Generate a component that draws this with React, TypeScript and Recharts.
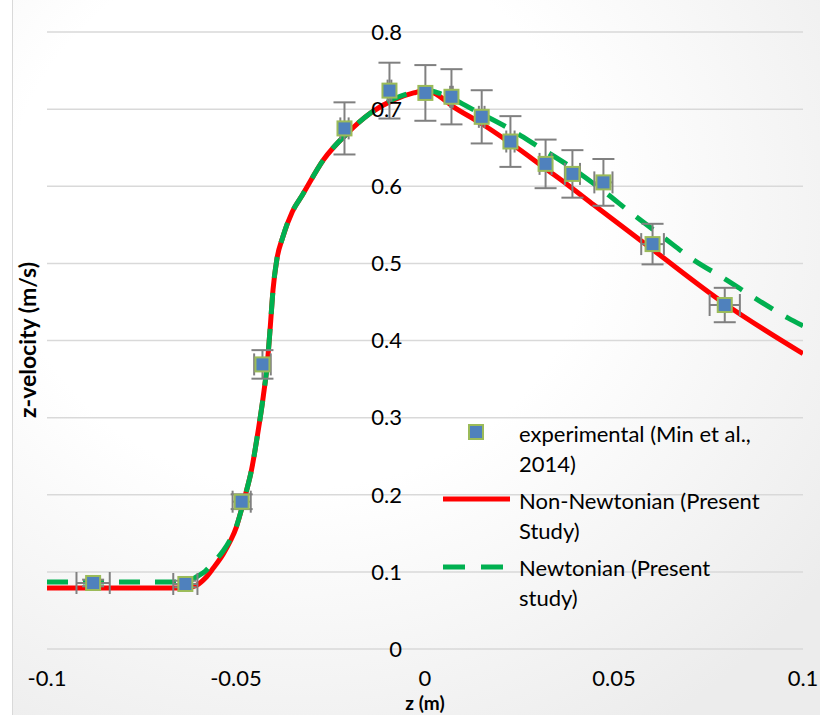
import React from 'react';
import {
  ComposedChart,
  Line,
  Scatter,
  XAxis,
  YAxis,
  CartesianGrid,
  ErrorBar,
  ReferenceDot,
  Label,
} from 'recharts';

// ---- data ----
const expX = [-0.0878, -0.0634, -0.0485, -0.0430, -0.0213, -0.0094, 0.0001, 0.0070, 0.0150, 0.0226, 0.0319, 0.0390, 0.0472, 0.0602, 0.0793];
const expY = [0.0856, 0.0843, 0.191, 0.369, 0.675, 0.724, 0.721, 0.716, 0.690, 0.658, 0.629, 0.616, 0.605, 0.525, 0.446];
const expYErr = [0.0043, 0.0042, 0.0096, 0.0185, 0.0338, 0.0362, 0.0361, 0.0358, 0.0345, 0.0329, 0.0315, 0.0308, 0.0303, 0.0263, 0.0223];
const expXErr = [0.0044, 0.0032, 0.0024, 0.0022, 0.0011, 0.0005, 0.0, 0.00035, 0.00075, 0.0011, 0.0016, 0.0020, 0.0024, 0.0030, 0.0040];

const nonNewtX = [-0.1, -0.08, -0.0634, -0.0603, -0.0581, -0.0560, -0.0534, -0.0515, -0.0499, -0.0486, -0.0475, -0.0459, -0.0441, -0.0428, -0.0417, -0.0409, -0.0402, -0.0392, -0.0377, -0.0351, -0.0324, -0.0269, -0.0205, -0.0144, -0.0083, -0.003, 0.0001, 0.0023, 0.0075, 0.0147, 0.0226, 0.0324, 0.0377, 0.0446, 0.0602, 0.0792, 0.1];
const nonNewtY = [0.079, 0.079, 0.079, 0.083, 0.092, 0.105, 0.123, 0.140, 0.158, 0.180, 0.200, 0.232, 0.284, 0.327, 0.371, 0.420, 0.466, 0.505, 0.533, 0.567, 0.589, 0.634, 0.669, 0.695, 0.712, 0.721, 0.724, 0.721, 0.703, 0.682, 0.656, 0.621, 0.602, 0.576, 0.518, 0.448, 0.383];

const newtX = [-0.1, -0.08, -0.0634, -0.0603, -0.0581, -0.0560, -0.0534, -0.0515, -0.0499, -0.0486, -0.0475, -0.0459, -0.0441, -0.0428, -0.0417, -0.0409, -0.0402, -0.0392, -0.0377, -0.0351, -0.0324, -0.0269, -0.0205, -0.0144, -0.0083, -0.003, 0.0001, 0.0035, 0.0075, 0.0125, 0.0222, 0.0301, 0.0385, 0.0469, 0.0549, 0.0630, 0.0709, 0.0793, 0.0876, 0.0961, 0.1];
const newtY = [0.087, 0.087, 0.087, 0.094, 0.101, 0.112, 0.127, 0.142, 0.159, 0.180, 0.200, 0.232, 0.284, 0.327, 0.371, 0.420, 0.466, 0.505, 0.533, 0.567, 0.589, 0.634, 0.669, 0.695, 0.713, 0.722, 0.725, 0.721, 0.713, 0.700, 0.675, 0.651, 0.625, 0.595, 0.564, 0.534, 0.505, 0.480, 0.454, 0.429, 0.419];

const xTicks = [-0.1, -0.05, 0, 0.05, 0.1];
const xTickLabels = ['-0.1', '-0.05', '0', '0.05', '0.1'];
const yTicks = [0, 0.1, 0.2, 0.3, 0.4, 0.5, 0.6, 0.7, 0.8];
const yTickLabels = ['0', '0.1', '0.2', '0.3', '0.4', '0.5', '0.6', '0.7', '0.8'];

const seriesNames = ['experimental (Min et al.,|2014)', 'Non-Newtonian (Present|Study)', 'Newtonian (Present|study)'];
const xTitle = 'z (m)';
const yTitle = 'z-velocity (m/s)';

// ---- built tables ----
const expData = expX.map((x, i) => ({ x, y: expY[i], ey: expYErr[i], ex: expXErr[i] }));
const nonNewtData = nonNewtX.map((x, i) => ({ x, y: nonNewtY[i] }));
const newtData = newtX.map((x, i) => ({ x, y: newtY[i] }));

const FONT = 'Lato, "Open Sans", sans-serif';
const RED = '#ff0000';
const GREEN = '#00b050';
const MARK_FILL = '#4f81bd';
const MARK_STROKE = '#9bbb59';

const SquareShape = (props: any) => {
  const { cx, cy } = props;
  if (cx == null || cy == null) return null;
  return <rect x={cx - 7} y={cy - 7} width={14} height={14} fill={MARK_FILL} stroke={MARK_STROKE} strokeWidth={2} />;
};
const NoShape = () => <g />;

const Legendo = () => {
  const rows = seriesNames.map((s) => s.split('|'));
  return (
    <svg width={820} height={715} style={{ position: 'absolute', left: 0, top: 0, pointerEvents: 'none' }}>
      <rect x={469} y={425} width={14} height={14} fill={MARK_FILL} stroke={MARK_STROKE} strokeWidth={2} />
      <line x1={443} x2={510} y1={499} y2={499} stroke={RED} strokeWidth={5} />
      <line x1={443} x2={503} y1={567} y2={567} stroke={GREEN} strokeWidth={5} strokeDasharray="22 16" />
      {rows.map((r, i) =>
        r.map((t, j) => (
          <text key={i + '-' + j} x={519} y={433 + i * 67 + j * 30} dominantBaseline="central" fontFamily={FONT} fontSize={22} fill="#000">
            {t}
          </text>
        ))
      )}
      <text x={27} y={340} transform="rotate(-90 27 340)" textAnchor="middle" dominantBaseline="central" fontFamily={FONT} fontWeight="bold" fontSize={23} fill="#000">
        {yTitle}
      </text>
    </svg>
  );
};

export default function App() {
  return (
    <div style={{ position: 'absolute', left: 0, top: 0, width: 820, height: 715, background: '#fff', overflow: 'hidden' }}>
      <div
        style={{
          position: 'absolute',
          left: 12,
          top: 0,
          width: 820,
          height: 715,
          borderLeft: '1.5px solid #d9d9d9',
          background: 'radial-gradient(ellipse 80% 85% at 35% 30%, #ffffff 0%, #ffffff 45%, #ececec 100%)',
        }}
      />
      <div style={{ position: 'absolute', left: 0, top: 0 }}>
        <ComposedChart width={820} height={715} margin={{ top: 32, right: 17, bottom: 36, left: 47 }}>
          <CartesianGrid vertical={false} stroke="#d9d9d9" strokeWidth={1.5} />
          <XAxis
            type="number"
            dataKey="x"
            domain={[-0.1, 0.1]}
            ticks={xTicks}
            allowDataOverflow
            axisLine={false}
            tickLine={false}
            height={30}
            tickSize={6}
            tickMargin={15}
            interval={0}
            tickFormatter={(v: number) => xTickLabels[xTicks.indexOf(v)] ?? String(v)}
            tick={{ fill: '#000', fontSize: 22, fontFamily: FONT }}
          >
            <Label value={xTitle} position="bottom" offset={17.5} fill="#000" fontSize={19} fontWeight="bold" fontFamily={FONT} />
          </XAxis>
          <YAxis type="number" domain={[0, 0.8]} ticks={yTicks} hide />
          <Line data={nonNewtData} dataKey="y" type="monotone" stroke={RED} strokeWidth={5} dot={false} isAnimationActive={false} />
          <Line data={newtData} dataKey="y" type="monotone" stroke={GREEN} strokeWidth={5} strokeDasharray="21 15" dot={false} isAnimationActive={false} />
          <Scatter data={expData} dataKey="y" shape={NoShape} isAnimationActive={false} legendType="none">
            <ErrorBar dataKey="ey" direction="y" width={11} stroke="#808080" strokeWidth={2} isAnimationActive={false} zIndex={500} />
            <ErrorBar dataKey="ex" direction="x" width={11} stroke="#808080" strokeWidth={2} isAnimationActive={false} zIndex={500} />
          </Scatter>
          <Scatter data={expData} dataKey="y" shape={SquareShape} isAnimationActive={false} zIndex={1500} />
          {yTicks.map((t, i) => (
            <ReferenceDot key={t} x={0} y={t} r={0} fill="none" stroke="none">
              <Label value={yTickLabels[i]} position="left" offset={23} fill="#000" fontSize={22} fontFamily={FONT} />
            </ReferenceDot>
          ))}
        </ComposedChart>
      </div>
      <Legendo />
    </div>
  );
}
